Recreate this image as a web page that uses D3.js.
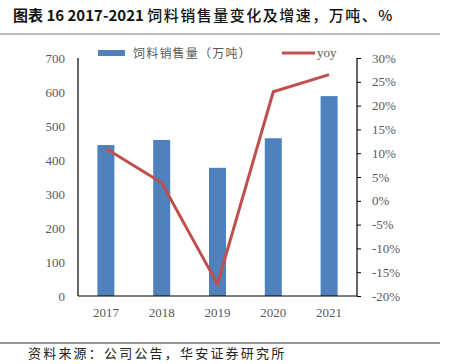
<!DOCTYPE html>
<html>
<head>
<meta charset="utf-8">
<script src="https://cdn.jsdelivr.net/npm/d3@7"></script>
<style>
  body { margin: 0; background: #fff; }
  svg { display: block; }
</style>
</head>
<body>
<svg id="chart"></svg>
<script>
// 饲料销售量及增速

const years = ['2017', '2018', '2019', '2020', '2021'];
const volume = [444, 459, 377, 464, 588];     // 万吨
const yoy = [11.0, 3.8, -17.5, 22.9, 26.5];   // %
const leftTicks = [0, 100, 200, 300, 400, 500, 600, 700];
const rightTicks = [-20, -15, -10, -5, 0, 5, 10, 15, 20, 25, 30];

const width = 452;
const height = 364;
const serif = '"Liberation Serif", "Times New Roman", serif';
const cjk = '"Noto Sans CJK SC", sans-serif';

const svg = d3.select('#chart')
    .attr('width', width)
    .attr('height', height);

// Título
const title = svg.append('text')
    .attr('x', 13)
    .attr('y', 21)
    .style('font-family', cjk)
    .style('font-size', '15px')
    .style('fill', '#111');
title.append('tspan').style('font-weight', 'bold').text('图表 16 2017-2021 ');
title.append('tspan')
    .style('font-weight', '500')
    .style('letter-spacing', '1.5px')
    .text('饲料销售量变化及增速，万吨、%');

svg.append('line')
    .attr('x1', 0).attr('x2', 440)
    .attr('y1', 34).attr('y2', 34)
    .attr('stroke', '#777').attr('stroke-width', 1);

// Escalas
const x = d3.scaleBand().domain(years).range([78, 357]);
const yLeft = d3.scaleLinear().domain([0, 700]).range([296, 58]);
const yRight = d3.scaleLinear().domain([-20, 30]).range([296, 58]);
const barW = 17;

// Barras
svg.append('g')
    .selectAll('rect')
    .data(volume)
    .enter()
    .append('rect')
    .attr('x', (d, i) => x(years[i]) + x.bandwidth() / 2 - barW / 2)
    .attr('width', barW)
    .attr('y', (d) => yLeft(d))
    .attr('height', (d) => yLeft(0) - yLeft(d))
    .attr('fill', '#4F81BD');

// Linha yoy
const line = d3.line()
    .x((d, i) => x(years[i]) + x.bandwidth() / 2)
    .y((d) => yRight(d));

svg.append('path')
    .datum(yoy)
    .attr('d', line)
    .attr('fill', 'none')
    .attr('stroke', '#C0504D')
    .attr('stroke-width', 3);

// Eixos
const leftAxis = svg.append('g')
    .attr('transform', 'translate(78,0)')
    .call(d3.axisLeft(yLeft).tickValues(leftTicks).tickSize(0).tickPadding(13));

const rightAxis = svg.append('g')
    .attr('transform', 'translate(357,0)')
    .call(d3.axisRight(yRight).tickValues(rightTicks).tickSize(4).tickPadding(11)
        .tickFormat((d) => d + '%'));

const bottomAxis = svg.append('g')
    .attr('transform', 'translate(0,296)')
    .call(d3.axisBottom(x).tickSize(0).tickPadding(12));

[leftAxis, rightAxis, bottomAxis].forEach((g) => {
    g.select('.domain').attr('stroke', '#000').attr('stroke-width', 1.2);
    g.selectAll('.tick line').attr('stroke', '#000');
    g.selectAll('text')
        .style('font-family', serif)
        .style('font-size', '13px')
        .style('fill', '#595959');
});
leftAxis.select('.domain').attr('d', 'M0,58V296');
rightAxis.select('.domain').attr('d', 'M0,58V296');
bottomAxis.select('.domain').attr('d', 'M78,0H357');

// Legenda
const legend = svg.append('g');
legend.append('rect')
    .attr('x', 98).attr('y', 50)
    .attr('width', 27).attr('height', 6)
    .attr('fill', '#4F81BD');
legend.append('text')
    .attr('x', 133).attr('y', 58)
    .style('font-family', cjk)
    .style('font-size', '12px')
    .style('letter-spacing', '1.2px')
    .style('fill', '#595959')
    .text('饲料销售量（万吨）');
legend.append('line')
    .attr('x1', 282).attr('x2', 315)
    .attr('y1', 53).attr('y2', 53)
    .attr('stroke', '#C0504D').attr('stroke-width', 3);
legend.append('text')
    .attr('x', 317).attr('y', 57)
    .style('font-family', serif)
    .style('font-size', '13px')
    .style('fill', '#595959')
    .text('yoy');

// Fonte
svg.append('line')
    .attr('x1', 0).attr('x2', 440)
    .attr('y1', 343).attr('y2', 343)
    .attr('stroke', '#333').attr('stroke-width', 1);
svg.append('text')
    .attr('x', 28)
    .attr('y', 358)
    .style('font-family', cjk)
    .style('font-size', '13px')
    .style('letter-spacing', '2.2px')
    .style('fill', '#222')
    .text('资料来源：公司公告，华安证券研究所');
</script>
</body>
</html>
